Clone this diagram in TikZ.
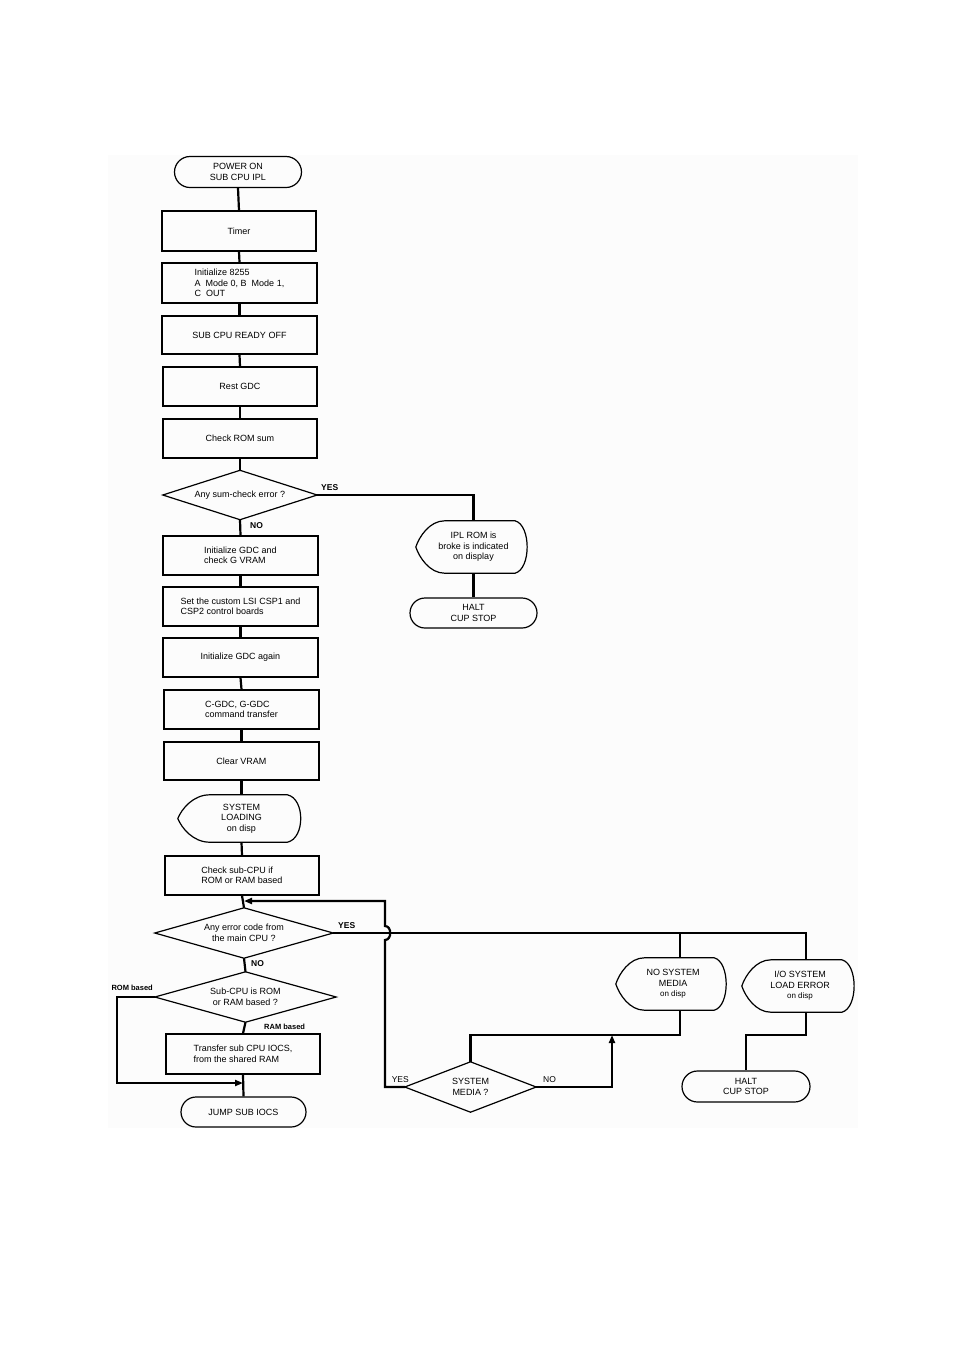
\documentclass[tikz,border=0pt]{standalone}
\usepackage{fontspec}
\setmainfont{Liberation Sans}
\usetikzlibrary{shapes.geometric,shapes.misc,arrows.meta,calc}
\tikzset{
  outline/.style={draw=black,line width=1.2pt},
  proc/.style={rectangle,outline,minimum width=155,minimum height=39,inner sep=1pt},
  term/.style={rounded rectangle,outline,minimum width=129,minimum height=31,inner sep=1pt,align=center},
  dec/.style={rectangle,draw=none,inner sep=0pt,align=center},
  disptext/.style={rectangle,draw=none,inner sep=0pt,align=center},
  conn/.style={draw=black,line width=2.2pt},
  arr/.style={conn,-{Triangle[length=8pt,width=6pt]}},
  lbl/.style={font=\fontsize{8.5}{9}\selectfont\bfseries,inner sep=1pt},
}
\newcommand\dispshape[1]{%
  \draw[outline] let \p1=(#1.north west), \p2=(#1.south east),
    \n1={\x2-\x1}, \n2={\y1-\y2} in
    ({\x1+0.25*\n1},\y1) -- ({\x1+0.86*\n1},\y1)
    .. controls ({\x2},{\y1-0.08*\n2}) and ({\x2},{\y2+0.08*\n2}) .. ({\x1+0.86*\n1},\y2)
    -- ({\x1+0.25*\n1},\y2)
    .. controls ({\x1+0.12*\n1},\y2) and ({\x1+0.03*\n1},{\y2+0.3*\n2}) .. (\x1,{0.5*\y1+0.5*\y2})
    .. controls ({\x1+0.03*\n1},{\y1-0.3*\n2}) and ({\x1+0.12*\n1},\y1) .. cycle;}
\newcommand\decshape[1]{%
  \draw[outline] (#1.north) -- (#1.east) -- (#1.south) -- (#1.west) -- cycle;}
\begin{document}
\begin{tikzpicture}[x=1pt,y=-1pt,font=\fontsize{9}{10.5}\selectfont]
\useasboundingbox (0,0) rectangle (954,1350);
\fill[black!1] (108,155) rectangle (858,1128);

% main column
\node[term,minimum width=129] (start) at (238,172) {POWER ON\\SUB CPU IPL};
\node[proc,minimum width=154,minimum height=40] (timer) at (239,231) {Timer};
\node[proc,minimum height=40,align=left] (i8255) at (239.5,283) {Initialize 8255\\A\ \ Mode 0, B\ \ Mode 1,\\C\ \ OUT};
\node[proc,minimum height=38] (ready) at (239.5,335) {SUB CPU READY OFF};
\node[proc,minimum width=154] (rest) at (240,386.5) {Rest GDC};
\node[proc,minimum width=154] (chk) at (240,438.5) {Check ROM sum};
\node[dec,minimum width=154,minimum height=49] (d1) at (240,495) {Any sum-check error ?};
\decshape{d1}

\node[disptext,minimum width=115,minimum height=52] (ipl) at (473.5,547) {IPL ROM is\\broke is indicated\\on display};
\dispshape{ipl}
\node[term,minimum width=129,minimum height=30] (halt1) at (473.5,613) {HALT\\CUP STOP};

\node[proc,align=left] (igdc) at (240.5,555.5) {Initialize GDC and\\check G VRAM};
\node[proc,align=left] (lsi) at (240.5,606.5) {Set the custom LSI CSP1 and\\CSP2 control boards};
\node[proc] (again) at (240.5,657.5) {Initialize GDC again};
\node[proc,align=left] (cgdc) at (241.5,709.5) {C-GDC, G-GDC\\command transfer};
\node[proc,minimum height=38] (clr) at (241.5,761) {Clear VRAM};
\node[disptext,minimum width=127,minimum height=47] (sysl) at (241.5,818.5) {SYSTEM\\LOADING\\on disp};
\dispshape{sysl}
\node[proc,minimum width=154,align=left] (chksub) at (242,875.5) {Check sub-CPU if\\ROM or RAM based};
\node[dec,minimum width=178,minimum height=50] (d2) at (244,933) {Any error code from\\the main CPU ?};
\decshape{d2}
\node[dec,minimum width=181,minimum height=50] (d3) at (245.5,997) {Sub-CPU is ROM\\or RAM based ?};
\decshape{d3}
\node[proc,minimum width=154,minimum height=40,align=left] (xfer) at (243,1054) {Transfer sub CPU IOCS,\\from the shared RAM};
\node[term,minimum width=127,minimum height=30] (jump) at (243.5,1112) {JUMP SUB IOCS};

% right side
\node[disptext,minimum width=114,minimum height=52] (nosys) at (673,984) {NO SYSTEM\\MEDIA\\{\fontsize{8}{9}\selectfont on disp}};
\dispshape{nosys}
\node[disptext,minimum width=116,minimum height=52] (ioerr) at (800,986) {I/O SYSTEM\\LOAD ERROR\\{\fontsize{8}{9}\selectfont on disp}};
\dispshape{ioerr}
\node[term,minimum width=130,minimum height=31] (halt2) at (746,1086.5) {HALT\\CUP STOP};
\node[dec,minimum width=131,minimum height=50] (d4) at (470.5,1087) {SYSTEM\\MEDIA ?};
\decshape{d4}

% coordinates
\coordinate (ynj) at (680,933);
\coordinate (yio) at (806,933);
\coordinate (nsb) at (680,1035);
\coordinate (iob) at (806,1035);
\coordinate (noup) at (612,1035);
\coordinate (loopbot) at (385,1087);
\coordinate (looptop) at (385,901);
\coordinate (looptip) at (244,901);
\coordinate (romleft) at (117,997);
\coordinate (romtip) at (243,1083);

% connectors main column
\draw[conn] (start.south) -- (timer.north);
\draw[conn] (timer.south) -- (i8255.north);
\draw[conn] (i8255.south) -- (ready.north);
\draw[conn] (ready.south) -- (rest.north);
\draw[conn] (rest.south) -- (chk.north);
\draw[conn] (chk.south) -- (d1.north);
\draw[conn] (d1.south) -- (igdc.north);
\draw[conn] (igdc.south) -- (lsi.north);
\draw[conn] (lsi.south) -- (again.north);
\draw[conn] (again.south) -- (cgdc.north);
\draw[conn] (cgdc.south) -- (clr.north);
\draw[conn] (clr.south) -- (sysl.north);
\draw[conn] (sysl.south) -- (chksub.north);
\draw[conn] (chksub.south) -- (d2.north);
\draw[conn] (d2.south) -- (d3.north);
\draw[conn] (d3.south) -- (xfer.north);
\draw[conn] (xfer.south) -- (jump.north);

% YES branch of sum check
\draw[conn] (d1.east) -| (ipl.north);
\draw[conn] (ipl.south) -- (halt1.north);

% YES branch of error code
\draw[conn] (d2.east) -- (yio) -- (ioerr.north -| yio);
\draw[conn] (ynj) -- (nosys.north -| ynj);
\draw[conn] (nosys.south -| nsb) -- (nsb) -| (d4.north);
\draw[arr] (d4.east) -| (noup);
\draw[conn] (ioerr.south -| iob) -- (iob) -| (halt2.north);

% loop back from SYSTEM MEDIA YES (with hop over the YES line)
\draw[arr] (d4.west) -- (loopbot) -- (385,940)
   .. controls (392,940) and (392,926) .. (385,926)
   -- (looptop) -- (looptip);

% ROM based bypass
\draw[arr] (d3.west) -- (romleft) -- (117,1083) -- (romtip);

% labels
\node[lbl,anchor=south west] (lyes1) at (320,492) {YES};
\node[lbl,anchor=north west] (lno1) at (249,521) {NO};
\node[lbl,anchor=south west] (lyes2) at (337,930) {YES};
\node[lbl,anchor=north west] (lno2) at (250,959) {NO};
\node[lbl,anchor=south east,font=\fontsize{7.5}{8}\selectfont\bfseries] (lrom) at (154,992) {ROM based};
\node[lbl,anchor=south west,font=\fontsize{7.5}{8}\selectfont\bfseries] (lram) at (263,1031) {RAM based};
\node[lbl,anchor=south east,font=\fontsize{8.5}{9}\selectfont] (lyes3) at (410,1084) {YES};
\node[lbl,anchor=south west,font=\fontsize{8.5}{9}\selectfont] (lno3) at (542,1084) {NO};
\end{tikzpicture}
\end{document}
